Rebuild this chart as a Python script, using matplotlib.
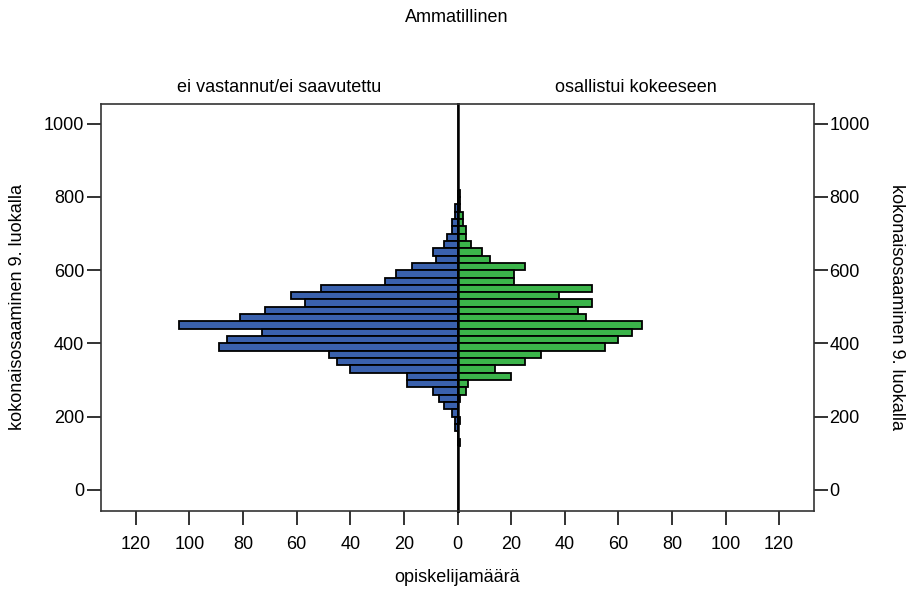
import matplotlib
matplotlib.use("Agg")
import matplotlib.pyplot as plt
import numpy as np

# bin lower edges (width 20) from 800 down to 120
bin_lower = [800, 780, 760, 740, 720, 700, 680, 660, 640, 620, 600, 580, 560,
             540, 520, 500, 480, 460, 440, 420, 400, 380, 360, 340, 320, 300,
             280, 260, 240, 220, 200, 180, 160, 140, 120]

# ei vastannut/ei saavutettu
counts_left = [0, 0, 1, 1, 2, 2, 4, 5, 9, 8, 17, 23, 27,
               51, 62, 57, 72, 81, 104, 73, 86, 89, 48, 45, 40, 19,
               19, 9, 7, 5, 2, 1, 1, 0, 0]

# osallistui kokeeseen
counts_right = [1, 1, 1, 2, 2, 3, 3, 5, 9, 12, 25, 21, 21,
                50, 38, 50, 45, 48, 69, 65, 60, 55, 31, 25, 14, 20,
                4, 3, 1, 0, 0, 1, 0, 0, 1]

panel_titles = ["ei vastannut/ei saavutettu", "osallistui kokeeseen"]
x_ticks = [0, 20, 40, 60, 80, 100, 120]
y_ticks = [0, 200, 400, 600, 800, 1000]

BLUE = "#3A61AD"
GREEN = "#3BB44A"
FONT = ["Liberation Sans Narrow", "Liberation Sans", "DejaVu Sans"]
plt.rcParams["font.family"] = FONT

fig = plt.figure(figsize=(9.12, 5.93), dpi=100)

left, mid, right = 101 / 912, 457.5 / 912, 814 / 912
bottom, top = 1 - 510.7 / 593, 1 - 104 / 593
axL = fig.add_axes([left, bottom, mid - left, top - bottom])
axR = fig.add_axes([mid, bottom, right - mid, top - bottom])

centers = np.array(bin_lower) + 10
axL.barh(centers, counts_left, height=20, color=BLUE, edgecolor="black", linewidth=1.3)
axR.barh(centers, counts_right, height=20, color=GREEN, edgecolor="black", linewidth=1.3)

axL.set_xlim(133, 0)
axR.set_xlim(0, 133)
for ax in (axL, axR):
    ax.set_ylim(-57, 1054)
    for s in ax.spines.values():
        s.set_color("#333333")
        s.set_linewidth(1.2)
    ax.tick_params(axis="both", direction="out", length=10, width=1.4,
                   color="#333333", labelsize=13, pad=4)

axL.spines["right"].set_color("black")
axL.spines["right"].set_linewidth(1.8)
axR.spines["left"].set_color("black")
axR.spines["left"].set_linewidth(1.8)

axL.set_xticks(x_ticks)
axR.set_xticks(x_ticks[1:])
axL.set_yticks(y_ticks)
axR.set_yticks(y_ticks)
axL.tick_params(axis="y", left=True, right=False, labelleft=True, pad=2)
axR.tick_params(axis="y", left=False, right=True, labelleft=False,
                labelright=True, pad=1)
axL.tick_params(axis="x", pad=8)
axR.tick_params(axis="x", pad=8)

fig.text(457 / 912, 1 - 18 / 593, "Ammatillinen", ha="center", va="center", fontsize=13)
fig.text(279 / 912, 1 - 87 / 593, panel_titles[0], ha="center", va="center", fontsize=13)
fig.text(636 / 912, 1 - 87 / 593, panel_titles[1], ha="center", va="center", fontsize=13)
fig.text(457 / 912, 1 - 578 / 593, "opiskelijamäärä", ha="center", va="center", fontsize=13)
fig.text(18 / 912, (1 - 307 / 593), "kokonaisosaaminen 9. luokalla", ha="center",
         va="center", rotation=90, fontsize=13)
fig.text(897 / 912, (1 - 307 / 593), "kokonaisosaaminen 9. luokalla", ha="center",
         va="center", rotation=-90, fontsize=13)

fig.savefig("out.png", dpi=100)
